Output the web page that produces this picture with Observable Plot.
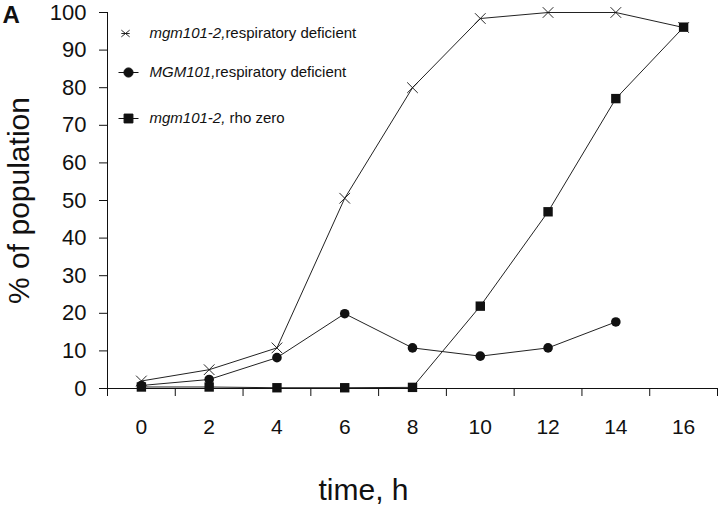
<!DOCTYPE html>
<html><head><meta charset="utf-8">
<script src="https://cdn.jsdelivr.net/npm/d3@7"></script>
<script src="https://cdn.jsdelivr.net/npm/@observablehq/plot@0.6"></script>
<style>body{margin:0;background:#fff;} #chart{width:720px;height:510px;}</style>
</head><body><div id="chart"></div>
<script>
// ---- data ----
const hours = [0, 2, 4, 6, 8, 10, 12, 14, 16];
const mutRespDeficient = [2, 5, 10.8, 50.6, 80, 98.4, 100, 100, 96];
const wtRespDeficient = [0.8, 2.4, 8.2, 19.9, 10.8, 8.6, 10.8, 17.7]; // 0..14 h
const mutRhoZero = [0.4, 0.4, 0.2, 0.2, 0.3, 21.9, 47, 77.1, 96.1];
const seriesKeys = ["mutResp", "wtResp", "mutRho"];
const italicParts = ["mgm101-2,", "MGM101,", "mgm101-2,"];
const regularParts = ["respiratory deficient", "respiratory deficient", " rho zero"];
const yTicks = [0, 10, 20, 30, 40, 50, 60, 70, 80, 90, 100];
const xTickLabels = [0, 2, 4, 6, 8, 10, 12, 14, 16];
const xBandEdges = [-1, 1, 3, 5, 7, 9, 11, 13, 15, 17];
const yLabel = "% of population";
const xLabel = "time, h";
const panelLabel = "A";

// ---- build rows ----
const rows = [];
hours.forEach((h, i) => rows.push({series: "mutResp", hour: h, value: mutRespDeficient[i]}));
wtRespDeficient.forEach((v, i) => rows.push({series: "wtResp", hour: hours[i], value: v}));
hours.forEach((h, i) => rows.push({series: "mutRho", hour: h, value: mutRhoZero[i]}));
const bySeries = k => rows.filter(d => d.series === k);

// custom legend symbols
const starSymbol = {draw(ctx, size) {
  const r = Math.sqrt(size / Math.PI);
  const a = r * 0.8, b = r * 0.65;
  ctx.moveTo(-a, -b); ctx.lineTo(a, b);
  ctx.moveTo(-a, b); ctx.lineTo(a, -b);
  ctx.moveTo(-a, 0); ctx.lineTo(a, 0);
}};
const circleWithLine = {draw(ctx, size) {
  const r = Math.sqrt(size / Math.PI);
  ctx.moveTo(r, 0); ctx.arc(0, 0, r, 0, 2 * Math.PI);
  ctx.moveTo(-10, 0); ctx.lineTo(10, 0);
}};
const squareWithLine = {draw(ctx, size) {
  const s = Math.sqrt(size);
  ctx.rect(-s / 2, -s / 2, s, s);
  ctx.moveTo(-10, 0); ctx.lineTo(10, 0);
}};

const ink = "#111";
const legendDy = [21, 60, 106];
const legendMarks = [];
legendMarks.push(Plot.dot([0], {frameAnchor: "top-left", dx: 18, dy: legendDy[0], symbol: starSymbol, r: 5.2, stroke: ink, strokeWidth: 0.9, fill: "none"}));
legendMarks.push(Plot.dot([0], {frameAnchor: "top-left", dx: 21, dy: legendDy[1], symbol: circleWithLine, r: 4.6, stroke: ink, strokeWidth: 1, fill: ink}));
legendMarks.push(Plot.dot([0], {frameAnchor: "top-left", dx: 21, dy: legendDy[2], symbol: squareWithLine, r: 5.0, stroke: ink, strokeWidth: 1, fill: ink}));
seriesKeys.forEach((k, i) => {
  legendMarks.push(Plot.text(["LEGEND" + i], {frameAnchor: "top-left", dx: 42, dy: legendDy[i], text: d => d, textAnchor: "start", lineAnchor: "middle", fontSize: 15, fill: ink}));
});

const chart = Plot.plot({
  width: 720,
  height: 510,
  marginLeft: 107,
  marginRight: 3,
  marginTop: 12,
  marginBottom: 122,
  style: {fontFamily: "'Liberation Sans', Arial, sans-serif", background: "#fff", color: ink},
  x: {type: "linear", domain: [-1, 17]},
  y: {domain: [0, 100]},
  marks: [
    // axis lines
    Plot.ruleX([-1], {y1: 0, y2: 100, stroke: ink, strokeWidth: 1}),
    Plot.ruleY([0], {x1: -1, x2: 17, stroke: ink, strokeWidth: 1}),
    Plot.axisY({ticks: yTicks, tickSize: 8, tickPadding: 13, fontSize: 22, label: null, stroke: ink, fill: ink}),
    Plot.axisX({ticks: xBandEdges, tickSize: 8, tickFormat: () => "", label: null, stroke: ink}),
    Plot.axisX({ticks: xTickLabels, tickSize: 0, tickPadding: 31, fontSize: 21, label: null, fill: ink}),
    // series lines
    Plot.line(rows, {x: "hour", y: "value", z: "series", stroke: "#222", strokeWidth: 1}),
    // markers
    Plot.dot(bySeries("mutResp"), {x: "hour", y: "value", symbol: "times", r: 4.9, stroke: ink, strokeWidth: 0.9}),
    Plot.dot(bySeries("wtResp"), {x: "hour", y: "value", symbol: "circle", r: 4.8, fill: ink}),
    Plot.dot(bySeries("mutRho"), {x: "hour", y: "value", symbol: "square", r: 5.3, fill: ink}),
    // titles
    Plot.text([yLabel], {frameAnchor: "left", dx: -88, rotate: -90, textAnchor: "middle", lineAnchor: "middle", fontSize: 30, fill: ink}),
    Plot.text([xLabel], {frameAnchor: "bottom", dx: -49, dy: 102, textAnchor: "middle", lineAnchor: "middle", fontSize: 30, fill: ink}),
    Plot.text([panelLabel], {frameAnchor: "top-left", dx: -105, dy: -7, textAnchor: "start", lineAnchor: "top", fontSize: 24, fontWeight: "bold", fill: ink}),
    ...legendMarks
  ]
});

// rich legend text (italic gene name + regular description)
d3.select(chart).selectAll("text").each(function() {
  const t = this.textContent;
  const m = /^LEGEND(\d)$/.exec(t);
  if (!m) return;
  const i = +m[1];
  const sel = d3.select(this);
  sel.text(null);
  sel.append("tspan").attr("font-style", "italic").text(italicParts[i]);
  sel.append("tspan").attr("xml:space", "preserve").text(regularParts[i]);
});

document.getElementById("chart").appendChild(chart);
</script>
</body></html>
